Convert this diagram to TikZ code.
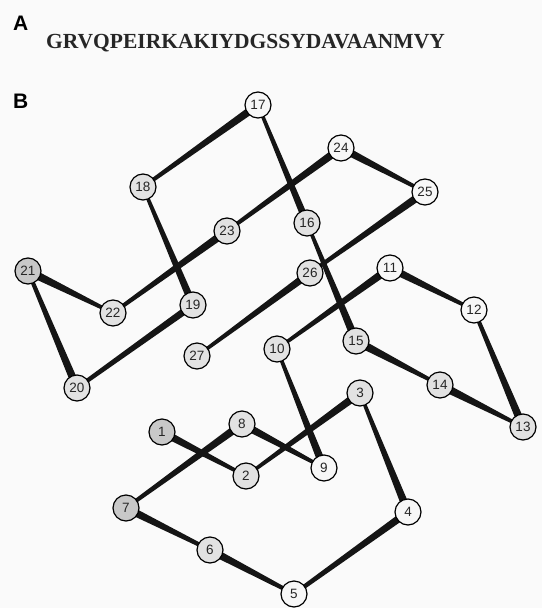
\documentclass[tikz,border=0pt]{standalone}
\usepackage{fontspec}
\setmainfont{Liberation Serif}
\setsansfont{Liberation Sans}
\usetikzlibrary{calc}
\definecolor{bondc}{HTML}{151515}
\definecolor{bgc}{HTML}{FAFAFA}
\definecolor{shdark}{HTML}{C8C8C8}
\definecolor{shmid}{HTML}{E2E2E2}
\definecolor{shlight}{HTML}{F7F7F7}
\tikzset{
  res/.style={circle, draw=black, line width=1.2pt, minimum size=26pt, inner sep=0pt,
    font=\sffamily\fontsize{13.5}{13.5}\selectfont, text=black!85},
  dk/.style={res, fill=shdark},
  md/.style={res, fill=shmid},
  lt/.style={res, fill=shlight},
  panel/.style={font=\sffamily\bfseries\fontsize{21}{21}\selectfont, inner sep=0pt, anchor=base west},
  seqtext/.style={font=\rmfamily\bfseries\fontsize{21.5}{21.5}\selectfont, inner sep=0pt, anchor=base west, text=black!85}
}
\newcommand\bond[4]{\fill[bondc] ($(#1.center)!#3!90:(#2.center)$) -- ($(#2.center)!#4!-90:(#1.center)$) -- ($(#2.center)!#4!90:(#1.center)$) -- ($(#1.center)!#3!-90:(#2.center)$) -- cycle;}
\begin{document}
\begin{tikzpicture}[x=1pt,y=-1pt]
\fill[bgc] (0,0) rectangle (542,608);
\useasboundingbox (0,0) rectangle (542,608);
\node[panel] (lA) at (13,30) {A};
\node[seqtext] (seq) at (46,48) {GRVQPEIRKAKIYDGSSYDAVAANMVY};
\node[panel] (lB) at (13,108) {B};
% residue positions
\coordinate (c1) at (162,432);
\coordinate (c2) at (246,476);
\coordinate (c3) at (360,393);
\coordinate (c4) at (408,512);
\coordinate (c5) at (294,594);
\coordinate (c6) at (210,550);
\coordinate (c7) at (126,508);
\coordinate (c8) at (242,424);
\coordinate (c9) at (324,468);
\coordinate (c10) at (277,349);
\coordinate (c11) at (390,268);
\coordinate (c12) at (474,310);
\coordinate (c13) at (523,427);
\coordinate (c14) at (440,385);
\coordinate (c15) at (356,341);
\coordinate (c16) at (307,223);
\coordinate (c17) at (258,105);
\coordinate (c18) at (143,187);
\coordinate (c19) at (193,305);
\coordinate (c20) at (77,388);
\coordinate (c21) at (28,271);
\coordinate (c22) at (113,313);
\coordinate (c23) at (227,231);
\coordinate (c24) at (341,148);
\coordinate (c25) at (425,192);
\coordinate (c26) at (310,273);
\coordinate (c27) at (197,356);
% bonds (thick end, thin end)
\bond{c1}{c2}{4pt}{1.6pt}
\bond{c3}{c2}{4pt}{1.6pt}
\bond{c4}{c3}{4pt}{1.6pt}
\bond{c4}{c5}{3.8pt}{2pt}
\bond{c6}{c5}{4pt}{1.8pt}
\bond{c7}{c6}{4pt}{1.8pt}
\bond{c8}{c7}{4pt}{1.8pt}
\bond{c8}{c9}{4pt}{1.6pt}
\bond{c9}{c10}{4pt}{1.6pt}
\bond{c11}{c10}{4pt}{1.6pt}
\bond{c11}{c12}{4pt}{1.6pt}
\bond{c13}{c12}{4pt}{1.8pt}
\bond{c14}{c13}{4.3pt}{1.6pt}
\bond{c15}{c14}{4.3pt}{1.6pt}
\bond{c15}{c16}{4pt}{1.6pt}
\bond{c16}{c17}{3.6pt}{1.6pt}
\bond{c17}{c18}{4pt}{1.8pt}
\bond{c19}{c18}{3.8pt}{1.6pt}
\bond{c19}{c20}{3.6pt}{2pt}
\bond{c20}{c21}{4pt}{1.8pt}
\bond{c21}{c22}{4.3pt}{1.6pt}
\bond{c23}{c22}{4pt}{1.8pt}
\bond{c24}{c23}{4pt}{1.8pt}
\bond{c24}{c25}{4pt}{1.6pt}
\bond{c25}{c26}{4pt}{1.8pt}
\bond{c26}{c27}{3.8pt}{1.6pt}
% residues
\node[dk] (n1) at (c1) {1};
\node[md] (n2) at (c2) {2};
\node[md] (n3) at (c3) {3};
\node[lt] (n4) at (c4) {4};
\node[lt] (n5) at (c5) {5};
\node[md] (n6) at (c6) {6};
\node[dk] (n7) at (c7) {7};
\node[md] (n8) at (c8) {8};
\node[lt] (n9) at (c9) {9};
\node[md] (n10) at (c10) {10};
\node[lt] (n11) at (c11) {11};
\node[lt] (n12) at (c12) {12};
\node[md] (n13) at (c13) {13};
\node[md] (n14) at (c14) {14};
\node[md] (n15) at (c15) {15};
\node[md] (n16) at (c16) {16};
\node[lt] (n17) at (c17) {17};
\node[md] (n18) at (c18) {18};
\node[md] (n19) at (c19) {19};
\node[md] (n20) at (c20) {20};
\node[dk] (n21) at (c21) {21};
\node[md] (n22) at (c22) {22};
\node[md] (n23) at (c23) {23};
\node[lt] (n24) at (c24) {24};
\node[lt] (n25) at (c25) {25};
\node[md] (n26) at (c26) {26};
\node[md] (n27) at (c27) {27};
\end{tikzpicture}
\end{document}
